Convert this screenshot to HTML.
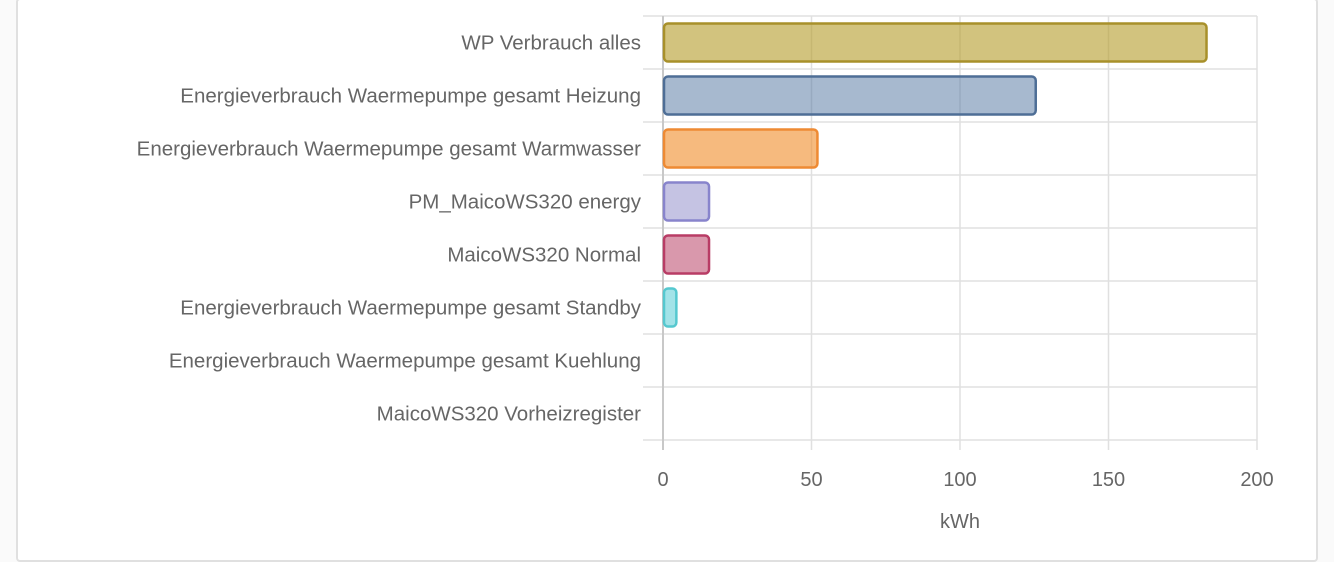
<!DOCTYPE html>
<html><head><meta charset="utf-8"><style>
body{margin:0;background:#fafafa;width:1334px;height:543px;overflow:hidden;font-family:"Liberation Sans",sans-serif}
#card{position:absolute;left:16px;top:-2px;width:1298px;height:560px;background:#fff;border:2px solid #e0e0e0;border-radius:4px}
svg{position:absolute;left:0;top:0}
</style></head><body>
<div id="card"></div>
<svg id="chart" width="1334" height="543"></svg>
<script>
const categories=["WP Verbrauch alles","Energieverbrauch Waermepumpe gesamt Heizung","Energieverbrauch Waermepumpe gesamt Warmwasser","PM_MaicoWS320 energy","MaicoWS320 Normal","Energieverbrauch Waermepumpe gesamt Standby","Energieverbrauch Waermepumpe gesamt Kuehlung","MaicoWS320 Vorheizregister"];
const values=[183,125.5,52,15.5,15.5,4.5,0,0];
const ticks=[0,50,100,150,200];
const fills=["rgba(180,155,40,0.6)","rgba(80,115,160,0.5)","rgba(240,140,40,0.6)","rgba(140,135,200,0.5)","rgba(180,50,90,0.5)","rgba(70,200,210,0.5)","#ccc","#ccc"];
const strokes=["#a8902a","#4e6e96","#ee8a33","#8884cc","#b83c65","#55c8cf","#ccc","#ccc"];
const svg=document.getElementById('chart');const NS='http://www.w3.org/2000/svg';
const x0=663,x1=1257,yT=16,yB=440;
const xs=v=>x0+(v-0)/(200-0)*(x1-x0);
const band=(yB-yT)/categories.length;
function mk(t,a,p){const e=document.createElementNS(NS,t);for(const k in a)e.setAttribute(k,a[k]);(p||svg).appendChild(e);return e;}
for(let i=0;i<=categories.length;i++){const y=yT+i*band;const l=mk('line',{x1:x0-20,x2:x1,y1:y,y2:y,stroke:'#e0e0e0','stroke-width':1.5});
}
ticks.forEach(t=>{const x=xs(t);const l=mk('line',{x1:x,x2:x,y1:yT,y2:yB+10,stroke:t===0?'#c8c8c8':'#e0e0e0','stroke-width':t===0?2:1.5});

const tx=mk('text',{x:x,y:486,'text-anchor':'middle','font-size':20,fill:'#666'});tx.textContent=t;
});
categories.forEach((c,i)=>{const yc=yT+band*(i+0.5);
const tx=mk('text',{x:641,y:yc+7,'text-anchor':'end','font-size':20.5,fill:'#666'});tx.textContent=c;

if(values[i]>0){const w=xs(values[i])-x0;const r=mk('rect',{x:x0+1,y:yc-19,width:Math.max(w-1,1),height:38,rx:4,fill:fills[i],stroke:strokes[i],'stroke-width':2.5});
}});
const t=mk('text',{x:960,y:528,'text-anchor':'middle','font-size':20,fill:'#666'});t.textContent='kWh';

</script></body></html>
